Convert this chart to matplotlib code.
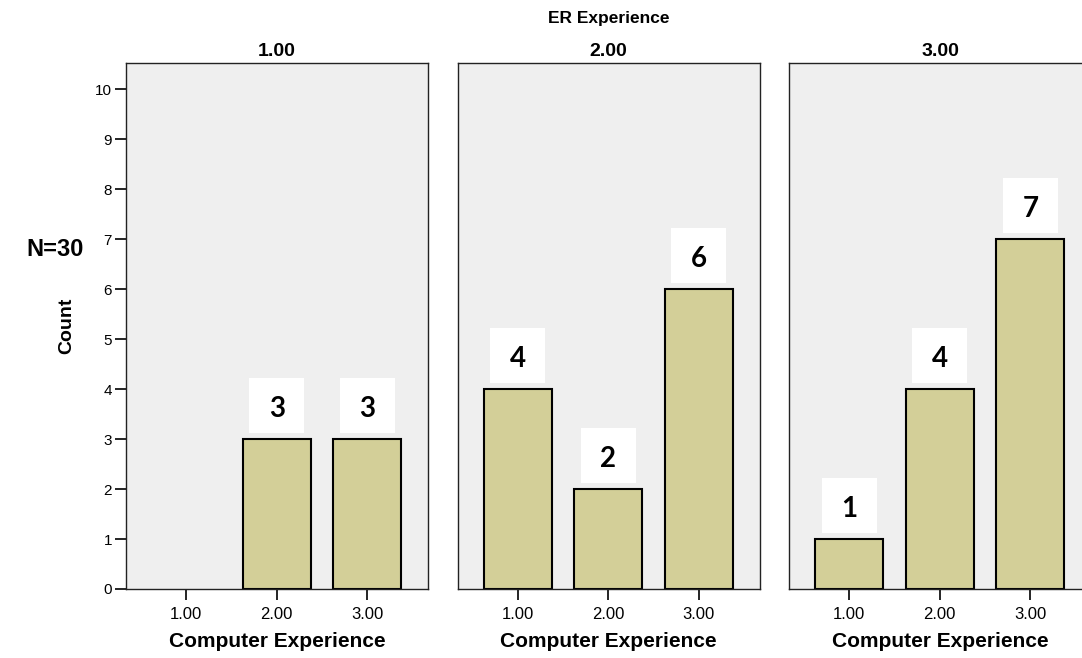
import matplotlib
matplotlib.use("Agg")
import matplotlib.pyplot as plt
from matplotlib.patches import Rectangle

# Data
panel_titles = ["1.00", "2.00", "3.00"]
categories = [1, 2, 3]
tick_labels = ["1.00", "2.00", "3.00"]
counts_er1 = [0, 3, 3]
counts_er2 = [4, 2, 6]
counts_er3 = [1, 4, 7]
all_counts = [counts_er1, counts_er2, counts_er3]
y_ticks = list(range(0, 11))

W, H = 1082, 658
fig = plt.figure(figsize=(W / 100, H / 100), dpi=100)
fig.patch.set_facecolor("white")

bar_color = "#d3cf98"
bg_color = "#efefef"
lefts = [126, 457.5, 789]
pw = 302
bottom_px = 589
top_px = 63

for i, (left, counts, title) in enumerate(zip(lefts, all_counts, panel_titles)):
    ax = fig.add_axes([left / W, (H - bottom_px) / H, pw / W, (bottom_px - top_px) / H])
    ax.set_facecolor(bg_color)
    ax.set_xlim(0.335, 3.67)
    ax.set_ylim(0, 10.53)
    for sp in ax.spines.values():
        sp.set_linewidth(1.0)
        sp.set_color("#222222")
    ax.set_xticks(categories)
    ax.set_xticklabels(tick_labels, fontsize=12, family="Liberation Sans")
    ax.tick_params(axis="x", direction="out", length=8, width=1.2, pad=5)
    if i == 0:
        ax.set_yticks(y_ticks)
        ax.set_yticklabels([str(v) for v in y_ticks], fontsize=11, family="Liberation Sans")
        ax.tick_params(axis="y", direction="out", length=8, width=1.2, pad=2)
        ax.set_ylabel("Count", fontsize=14, fontweight="bold", family="Liberation Sans", labelpad=14)
    else:
        ax.set_yticks([])
    ax.set_title(title, fontsize=14, fontweight="bold", family="Liberation Sans", pad=5)
    ax.set_xlabel("Computer Experience", fontsize=15, fontweight="bold", family="Liberation Sans", labelpad=7)
    bars = ax.bar(categories, counts, width=0.75, color=bar_color, edgecolor="black", linewidth=1.5, zorder=2)
    for b, c in zip(bars, counts):
        if c <= 0:
            b.set_visible(False)
    for x, c in zip(categories, counts):
        if c <= 0:
            continue
        ax.add_patch(Rectangle((x - 0.305, c + 0.12), 0.61, 1.1, facecolor="white",
                               edgecolor="none", zorder=3))
        ax.text(x, c + 0.6, str(c), ha="center", va="center", fontsize=20,
                fontweight="bold", family="Lato", zorder=4)

fig.text(609 / W, 1 - 18 / H, "ER Experience", ha="center", va="center",
         fontsize=12.5, fontweight="bold", family="Liberation Sans")
fig.text(55 / W, 1 - 250 / H, "N=30", ha="center", va="center",
         fontsize=17, fontweight="bold", family="Liberation Sans")

fig.savefig("out.png", dpi=100)
